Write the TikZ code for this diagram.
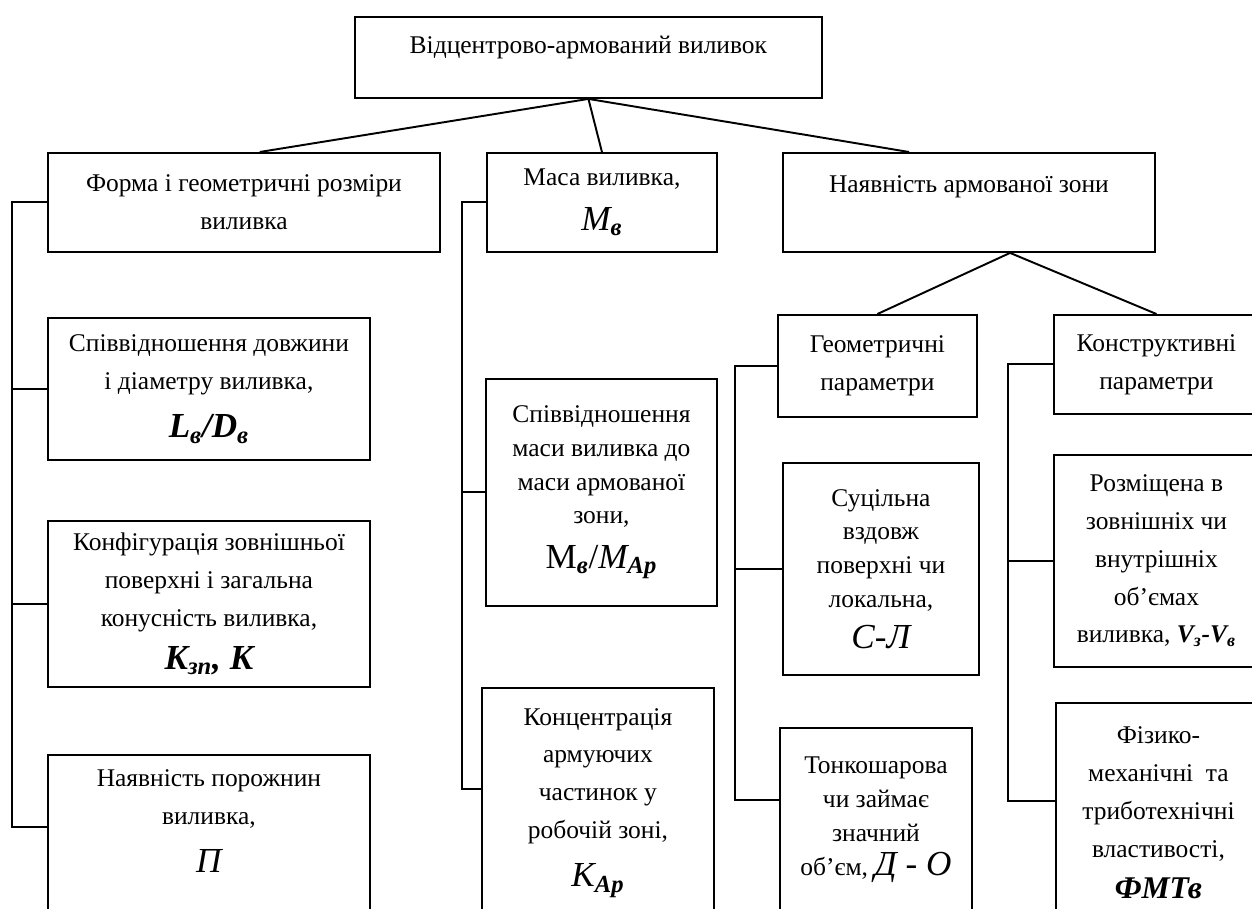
\documentclass[tikz,border=0pt]{standalone}
\usepackage{fontspec}
\setmainfont{Liberation Serif}
\usetikzlibrary{calc}

\newcommand{\subbi}[1]{\textsubscript{\bfseries\itshape #1}}
\newcommand{\bigsym}{\fontsize{20}{24}\selectfont\itshape}

\begin{document}
\begin{tikzpicture}[x=0.02cm,y=-0.02cm,
		box/.style={draw,line width=1.1pt,anchor=north west,align=center,inner sep=2pt,
			font=\fontsize{14.5}{21.5}\selectfont},
		tight/.style={font=\fontsize{14.5}{19.2}\selectfont},
		link/.style={-,line width=1.1pt}]

				\useasboundingbox (0,0) rectangle (1252,909);
				\clip (0,0) rectangle (1252,909);

				\node[box,minimum width=9.34cm,minimum height=1.62cm] (Root) at (354,16) {Відцентрово-армований виливок\\[-7pt] \mbox{}};

				\node[box,minimum width=7.84cm,minimum height=1.98cm] (Form) at (47,152) {Форма і геометричні розміри\\виливка};
				\node[box,minimum width=4.60cm,minimum height=1.98cm] (Mass) at (486,152) {Маса виливка,\\[4pt] {\bigsym M\subbi{в}}};
				\node[box,minimum width=7.44cm,minimum height=1.98cm] (Zone) at (782,152) {Наявність армованої зони\\ \mbox{}};

				\draw[link] (Root.south) -- ($(Form.north west)!0.54!(Form.north east)$);
				\draw[link] (Root.south) -- (Mass.north);
				\draw[link] (Root.south) -- ($(Zone.north west)!0.34!(Zone.north east)$);

				% form of the casting
				\node[box,minimum width=6.44cm,minimum height=2.84cm] (LenDiam) at (47,317) {Співвідношення довжини\\і діаметру виливка,\\[6pt] {\bigsym\bfseries L\subbi{в}/D\subbi{в}}};
				\node[box,minimum width=6.44cm,minimum height=3.32cm] (Config) at (47,520) {Конфігурація зовнішньої\\поверхні і загальна\\конусність виливка,\\[3pt] {\bigsym\bfseries K\subbi{зп}, K}};
				\node[box,minimum width=6.44cm,minimum height=3.40cm] (Cavity) at (47,754) {Наявність порожнин\\виливка,\\[6pt] {\bigsym П}\\ \mbox{}};

				\coordinate (BusForm) at (12,0);
				\coordinate (CavityTap) at ($(Cavity.north west)+(0,73)$);
				\draw[link] (Form.west) -| (BusForm |- CavityTap) -- (CavityTap);
				\draw[link] (LenDiam.west) -- (LenDiam.west -| BusForm);
				\draw[link] (Config.west) -- (Config.west -| BusForm);

				% mass of the casting
				\node[box,tight,minimum width=4.62cm,minimum height=4.54cm] (MassRatio) at (485,378) {Співвідношення\\маси виливка до\\маси армованої\\зони,\\[6pt] {\bigsym\upshape M\subbi{в}/\itshape M\subbi{Ap}}};
				\node[box,minimum width=4.64cm,minimum height=4.60cm] (Conc) at (481,687) {Концентрація\\армуючих\\частинок у\\робочій зоні,\\[6pt] {\bigsym K\subbi{Ap}}};

				\coordinate (BusMass) at (462,0);
				\coordinate (ConcTap) at ($(Conc.north west)+(0,102)$);
				\draw[link] (Mass.west) -| (BusMass |- ConcTap) -- (ConcTap);
				\draw[link] (MassRatio.west) -- (MassRatio.west -| BusMass);

				% reinforced zone
				\node[box,minimum width=3.98cm,minimum height=2.04cm] (Geom) at (777,314) {Геометричні\\параметри};
				\node[box,minimum width=4.10cm,minimum height=1.98cm] (Constr) at (1053,314) {Конструктивні\\параметри};

				\coordinate (ZoneFoot) at ($(Zone.south west)!0.61!(Zone.south east)$);
				\draw[link] (ZoneFoot) -- (Geom.north);
				\draw[link] (ZoneFoot) -- (Constr.north);

				\node[box,tight,minimum width=3.92cm,minimum height=4.24cm] (Solid) at (782,462) {Суцільна\\вздовж\\поверхні чи\\локальна,\\[4pt] {\bigsym С-Л}};
				\node[box,tight,minimum width=3.84cm,minimum height=4.20cm] (Thin) at (779,727) {Тонкошарова\\чи займає\\значний\\об’єм, {\bigsym Д - О}\\ \mbox{}};

				\coordinate (BusGeom) at (735,0);
				\coordinate (ThinTap) at ($(Thin.north west)+(0,73)$);
				\draw[link] (Geom.west) -| (BusGeom |- ThinTap) -- (ThinTap);
				\draw[link] (Solid.west) -- (Solid.west -| BusGeom);

				\node[box,minimum width=4.10cm,minimum height=4.24cm] (Placed) at (1053,454) {Розміщена в\\зовнішніх чи\\внутрішніх\\об’ємах\\виливка, {\bfseries\itshape V\subbi{з}-V\subbi{в}}};
				\node[box,minimum width=4.10cm,minimum height=4.40cm] (Props) at (1055,702) {Фізико-\\механічні~ та\\триботехнічні\\властивості,\\[2pt] {\fontsize{18}{22}\selectfont\bfseries\itshape ФМТв}};

				\coordinate (BusConstr) at (1008,0);
				\coordinate (PropsTap) at ($(Props.north west)+(0,99)$);
				\draw[link] (Constr.west) -| (BusConstr |- PropsTap) -- (PropsTap);
				\draw[link] (Placed.west) -- (Placed.west -| BusConstr);

\end{tikzpicture}
\end{document}
